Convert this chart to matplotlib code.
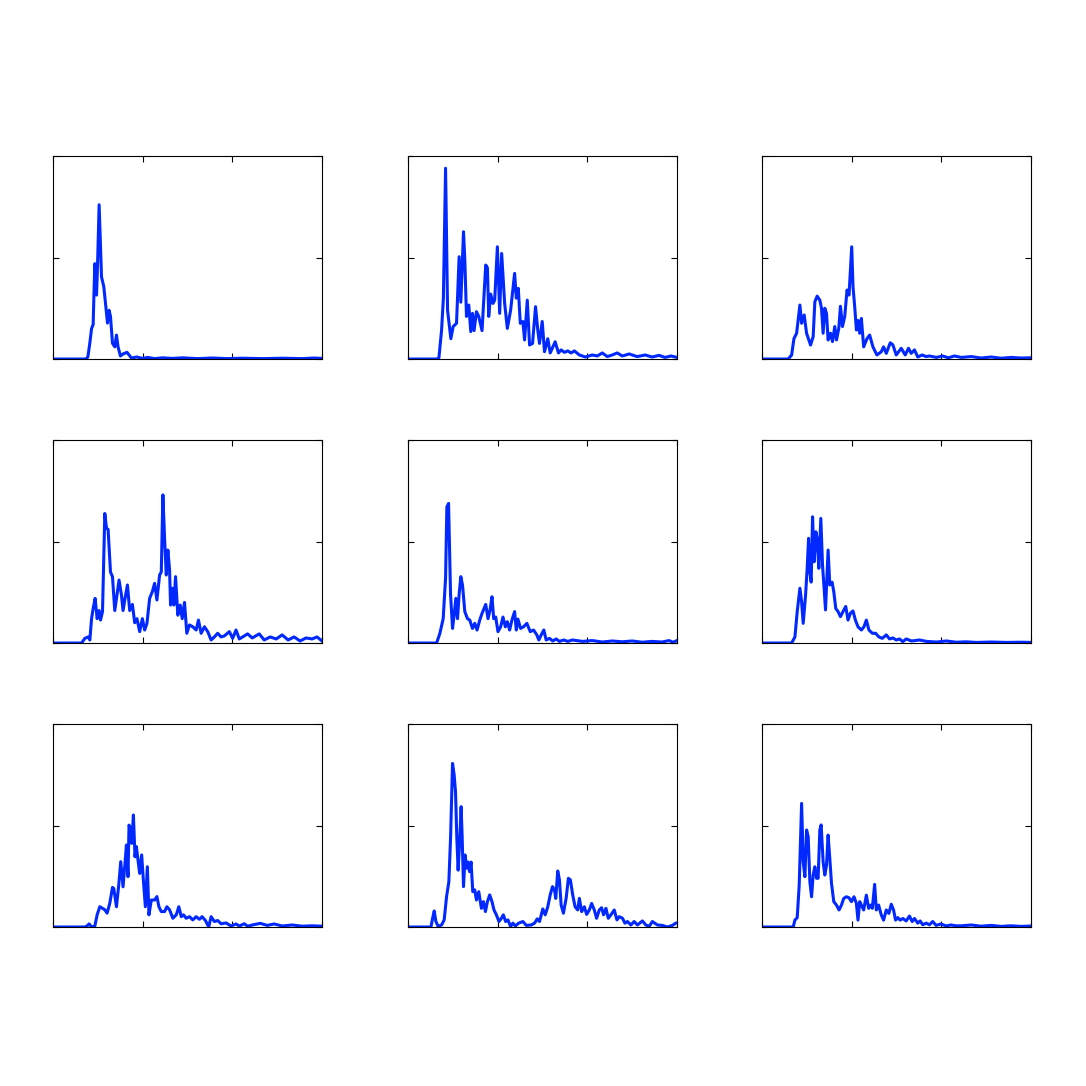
import matplotlib
matplotlib.use('Agg')
import matplotlib.pyplot as plt

# values, x in bins (0-270), y normalised to the axis height
x1 = [0, 33, 35, 37, 38.7, 40.3, 41, 42, 43.7, 44.7, 46.3, 48.7, 51, 53.7, 54.7, 56.3, 57.7, 59.7, 62, 63.7,
      65.3, 67.7, 70.3, 74.3, 78.7, 84, 90, 95, 102, 110, 120, 130, 145, 160, 175, 190, 210, 230, 250, 262, 270]
y1 = [0, 0, 0.01, 0.08, 0.15, 0.17, 0.3, 0.47, 0.315, 0.46, 0.76, 0.405, 0.356, 0.226, 0.177, 0.24, 0.21, 0.078, 0.06, 0.118,
      0.06, 0.015, 0.025, 0.033, 0.005, 0.01, 0.003, 0.008, 0.002, 0.006, 0.003, 0.006, 0.002, 0.005, 0.002, 0.004, 0.002, 0.004, 0.002, 0.005, 0.003]

x2 = [0, 28.7, 31, 33.7, 35.5, 37.7, 39.7, 43, 45.3, 48.7, 51.3, 53, 55.7, 57, 58.7, 61, 63, 64.7, 66.3, 68.7,
      71, 74.3, 78, 79.7, 81, 83, 85.3, 87, 89.7, 92, 94, 97, 99.7, 103, 107, 108.7, 110.7, 112.7, 115.3, 117,
      119.7, 122, 125, 128, 130.3, 132, 134.7, 137, 140.3, 142.7, 147.7, 151, 153.7, 157, 160.3, 163.7, 167, 172,
      178, 185, 190, 195, 200, 205, 210, 215, 222, 230, 238, 245, 252, 258, 264, 270]
y2 = [0, 0, 0.005, 0.143, 0.3, 0.94, 0.24, 0.1, 0.16, 0.176, 0.504, 0.28, 0.627, 0.49, 0.21, 0.266, 0.135, 0.225, 0.14, 0.233,
      0.21, 0.14, 0.463, 0.45, 0.21, 0.32, 0.274, 0.29, 0.553, 0.225, 0.52, 0.274, 0.151, 0.241, 0.422, 0.3, 0.348, 0.176, 0.185, 0.094,
      0.29, 0.069, 0.077, 0.258, 0.14, 0.077, 0.185, 0.036, 0.1, 0.03, 0.085, 0.03, 0.045, 0.033, 0.04, 0.03, 0.04, 0.02,
      0.01, 0.02, 0.015, 0.03, 0.012, 0.02, 0.03, 0.015, 0.025, 0.012, 0.02, 0.01, 0.018, 0.008, 0.015, 0.008]

x3 = [0, 26.3, 29.7, 32, 34.7, 38, 39.7, 42.3, 44.7, 48.7, 51.3, 53, 55.3, 58, 59.7, 61.3, 63, 64.7, 66.3, 68.7,
      70.7, 73, 74.7, 77, 78.7, 80.7, 83, 85.3, 87.3, 90, 91.3, 93, 94.7, 96.3, 98, 99.7, 102, 105.3, 108, 111.3,
      115.3, 119.7, 122, 124.7, 128.7, 131.3, 134.7, 139.7, 143.7, 147, 149.7, 153, 156.3, 160.7, 164.7, 168, 175,
      181.3, 187, 193, 200, 210, 220, 230, 240, 250, 260, 270]
y3 = [0, 0, 0.02, 0.1, 0.127, 0.266, 0.176, 0.217, 0.127, 0.069, 0.11, 0.282, 0.31, 0.29, 0.25, 0.127, 0.25, 0.225, 0.094, 0.127,
      0.086, 0.16, 0.094, 0.15, 0.26, 0.16, 0.21, 0.34, 0.315, 0.553, 0.356, 0.258, 0.143, 0.19, 0.127, 0.2, 0.06, 0.1, 0.118, 0.06,
      0.02, 0.036, 0.06, 0.028, 0.08, 0.07, 0.02, 0.053, 0.02, 0.053, 0.028, 0.045, 0.01, 0.02, 0.012, 0.015, 0.008,
      0.015, 0.006, 0.015, 0.008, 0.012, 0.005, 0.01, 0.004, 0.008, 0.005, 0.006]

x4 = [0, 28.7, 32, 35.3, 37, 38.7, 40.3, 42.3, 44.3, 46.3, 47.7, 49.7, 52, 53.7, 55.3, 57.7, 59.7, 62, 66.3, 68.7,
      70.3, 72.3, 74.7, 77, 79.7, 82, 84.3, 87, 89.7, 92, 94.3, 97, 99.7, 102, 104.3, 107, 108.7, 110.3, 112, 113.7,
      115.3, 117, 118, 119.7, 121.3, 123, 125.3, 127.7, 129.7, 132, 134.3, 137, 140.3, 143.7, 146, 148.7, 152, 155.3,
      158.7, 162, 165.3, 168.7, 172, 177, 180.3, 183.7, 187, 192, 195.3, 200, 207, 212, 218, 224, 230, 236, 242, 248,
      254, 260, 265, 270]
y4 = [0, 0, 0.023, 0.03, 0.015, 0.12, 0.17, 0.22, 0.12, 0.16, 0.113, 0.155, 0.638, 0.565, 0.56, 0.35, 0.327, 0.16, 0.31, 0.237,
      0.16, 0.22, 0.286, 0.16, 0.19, 0.1, 0.12, 0.056, 0.12, 0.064, 0.097, 0.22, 0.253, 0.294, 0.212, 0.335, 0.35, 0.73, 0.515, 0.335,
      0.458, 0.36, 0.187, 0.27, 0.187, 0.327, 0.137, 0.187, 0.12, 0.2, 0.048, 0.089, 0.08, 0.064, 0.113, 0.048, 0.08, 0.056,
      0.015, 0.03, 0.048, 0.03, 0.035, 0.056, 0.023, 0.064, 0.02, 0.035, 0.045, 0.025, 0.045, 0.015, 0.03, 0.02, 0.04, 0.015, 0.03, 0.01,
      0.025, 0.02, 0.03, 0.01]

x5 = [0, 28.7, 32, 35.3, 37.7, 39, 40.7, 42.7, 44.7, 46.3, 48, 49.7, 51.3, 53, 54.7, 57, 59.7, 62, 64.7, 67,
      69.3, 72, 74.3, 76.3, 78, 80.3, 82.3, 84.3, 86, 88, 90.3, 93, 95.3, 97.7, 99.7, 102, 104.3, 107, 108.7, 110.3,
      113, 116, 119.3, 122.7, 126, 129.3, 131.3, 133.7, 136.3, 138.7, 142, 145.3, 148.7, 152, 156.3, 160.3, 165,
      175, 185, 195, 205, 215, 225, 235, 245, 255, 262, 266, 270]
y5 = [0, 0, 0.048, 0.12, 0.32, 0.67, 0.688, 0.24, 0.072, 0.137, 0.22, 0.12, 0.24, 0.327, 0.286, 0.155, 0.12, 0.113, 0.072, 0.097,
      0.064, 0.113, 0.146, 0.17, 0.19, 0.12, 0.162, 0.228, 0.12, 0.128, 0.056, 0.08, 0.128, 0.08, 0.105, 0.064, 0.113, 0.155, 0.064, 0.118,
      0.072, 0.08, 0.097, 0.056, 0.064, 0.04, 0.015, 0.04, 0.064, 0.015, 0.023, 0.01, 0.02, 0.008, 0.015, 0.008, 0.015,
      0.008, 0.012, 0.005, 0.01, 0.006, 0.01, 0.004, 0.008, 0.005, 0.012, 0.004, 0.012]

x6 = [0, 29.7, 33, 35.3, 38, 39.7, 41.3, 43.7, 45.3, 46.7, 48, 49.3, 50.7, 52.3, 54, 55.3, 57, 59, 60.7, 62.3,
      63.7, 66.3, 68, 70.3, 72, 74, 76.3, 78.7, 81.3, 84, 86.3, 88.7, 91.3, 93.7, 96.3, 99.7, 102.3, 104.7, 107.3, 110.7,
      114, 117.3, 120.7, 124.7, 128, 131.3, 134.7, 138, 141.3, 144.7, 150, 158, 165, 175, 185, 195, 205, 215, 230,
      245, 260, 270]
y6 = [0, 0, 0.03, 0.155, 0.27, 0.204, 0.097, 0.237, 0.368, 0.516, 0.35, 0.3, 0.622, 0.4, 0.548, 0.516, 0.368, 0.614, 0.384, 0.27,
      0.163, 0.458, 0.286, 0.3, 0.253, 0.17, 0.155, 0.13, 0.155, 0.18, 0.113, 0.147, 0.158, 0.113, 0.08, 0.064, 0.08, 0.113, 0.064, 0.048,
      0.048, 0.03, 0.023, 0.04, 0.02, 0.025, 0.015, 0.02, 0.007, 0.02, 0.01, 0.015, 0.008, 0.005, 0.01, 0.004, 0.006, 0.003, 0.005,
      0.003, 0.004, 0.003]

x7 = [0, 32, 34.3, 36.3, 38.7, 42, 44.3, 47, 49.7, 52, 54.3, 57, 59.7, 61, 63.7, 66, 68, 70.3, 72, 73.7,
      75.3, 76.3, 78, 79, 80.7, 82.3, 83.7, 85.3, 87, 89, 90.7, 92.7, 94.7, 96.3, 98.7, 102, 104.3, 106.3, 108.7, 112,
      114.3, 117, 120.3, 123.7, 126.3, 128.7, 131, 133.7, 137, 140.3, 143.7, 147, 149.7, 153, 156.3, 158.7, 162,
      165.3, 168.7, 173.7, 178.7, 183.7, 187, 192, 195.3, 200, 208, 215, 222, 230, 240, 250, 260, 270]
y7 = [0, 0, 0.006, 0.015, 0, 0.005, 0.06, 0.1, 0.092, 0.085, 0.068, 0.117, 0.195, 0.19, 0.1, 0.207, 0.322, 0.198, 0.297, 0.404,
      0.248, 0.502, 0.478, 0.412, 0.552, 0.346, 0.396, 0.33, 0.264, 0.355, 0.231, 0.1, 0.297, 0.06, 0.133, 0.133, 0.15, 0.1, 0.076, 0.076,
      0.1, 0.085, 0.043, 0.06, 0.1, 0.051, 0.06, 0.043, 0.051, 0.035, 0.051, 0.038, 0.051, 0.032, 0, 0.051, 0.027,
      0.032, 0.016, 0.02, 0.005, 0.015, 0.005, 0.016, 0.004, 0.01, 0.018, 0.008, 0.015, 0.005, 0.01, 0.004, 0.006, 0.004]

x8 = [0, 23, 24.7, 26.3, 28, 30.3, 33.7, 36.3, 38.7, 41, 42.7, 44.7, 46.3, 47.7, 49, 50.3, 52, 53.3, 54.3, 55.7,
      57.3, 59, 60.3, 61.7, 63.3, 65, 67, 68.7, 71, 73.7, 75.7, 77.7, 79.7, 82, 84.3, 86.3, 88.7, 91.3, 93.7, 95.7,
      98, 100.3, 103, 105.3, 107.7, 111, 115.3, 118.7, 123.7, 127, 129.7, 132, 135.3, 137.7, 140.3, 142.7, 145, 147,
      148.3, 150.3, 152, 153.7, 156, 158.7, 161, 163, 165.3, 167.7, 170.3, 172, 174.3, 177, 179.3, 182, 184.3, 187,
      189.3, 192, 194.3, 196.3, 198.7, 201, 203.7, 207, 209.7, 212, 215.3, 217.7, 220.3, 223.7, 227, 230.3, 235.3,
      238.7, 242, 245.3, 250.3, 255.3, 260.3, 265.3, 268.7, 270]
y8 = [0, 0, 0.043, 0.079, 0.027, 0.003, 0.01, 0.035, 0.15, 0.223, 0.437, 0.806, 0.75, 0.665, 0.437, 0.28, 0.437, 0.593, 0.453, 0.199,
      0.355, 0.29, 0.32, 0.273, 0.32, 0.174, 0.183, 0.133, 0.174, 0.092, 0.125, 0.076, 0.125, 0.158, 0.125, 0.084, 0.06, 0.027, 0.043, 0.06,
      0.027, 0.035, 0.003, 0.019, 0.005, 0.019, 0.027, 0.008, 0.01, 0.019, 0.04, 0.027, 0.089, 0.06, 0.1, 0.158, 0.199, 0.183,
      0.141, 0.276, 0.232, 0.108, 0.068, 0.141, 0.24, 0.232, 0.158, 0.1, 0.084, 0.141, 0.076, 0.1, 0.062, 0.084, 0.116, 0.084,
      0.043, 0.084, 0.095, 0.06, 0.092, 0.043, 0.06, 0.084, 0.035, 0.051, 0.043, 0.019, 0.027, 0.01, 0.027, 0.01, 0.03,
      0.01, 0.003, 0.027, 0.01, 0.008, 0.0, 0.008, 0.019, 0.02]

x9 = [0, 31.3, 33, 35.3, 37.3, 39.7, 41.3, 43, 44.7, 46.3, 48, 49.7, 51.3, 53, 54.7, 56.3, 58, 59.3, 61.3, 63,
      64.7, 66.3, 68, 69.7, 72, 74.7, 77.3, 79.7, 82, 84.7, 87.3, 89.7, 92.3, 94.7, 96.3, 98, 99.7, 102, 104.7, 107,
      109, 110.7, 113, 114.7, 117, 119.7, 122, 124.7, 127.3, 129.7, 132, 134, 136.3, 138.7, 141.3, 144.7, 148, 150.7,
      153, 156.3, 158.7, 161.3, 164.7, 168, 171.3, 174.7, 179.7, 184.7, 189.7, 194.7, 200, 210, 220, 230, 240, 250,
      260, 270]
y9 = [0, 0, 0.034, 0.046, 0.207, 0.609, 0.322, 0.248, 0.478, 0.445, 0.223, 0.149, 0.256, 0.297, 0.24, 0.24, 0.478, 0.503, 0.322, 0.256,
      0.305, 0.453, 0.338, 0.215, 0.125, 0.108, 0.084, 0.108, 0.141, 0.149, 0.144, 0.125, 0.149, 0.116, 0.034, 0.125, 0.108, 0.084, 0.157, 0.092,
      0.108, 0.092, 0.21, 0.084, 0.108, 0.059, 0.034, 0.084, 0.067, 0.112, 0.084, 0.034, 0.046, 0.034, 0.042, 0.03, 0.054, 0.027,
      0.042, 0.019, 0.03, 0.011, 0.019, 0.011, 0.027, 0.008, 0.015, 0.005, 0.01, 0.006, 0.006, 0.01, 0.004, 0.008, 0.003, 0.006,
      0.003, 0.005]

xs = [x1, x2, x3, x4, x5, x6, x7, x8, x9]
ys = [y1, y2, y3, y4, y5, y6, y7, y8, y9]

fig = plt.figure(figsize=(10.86, 10.86), dpi=100)

lefts = [0.0488, 0.3757, 0.7017]
bottoms = [0.6694, 0.4079, 0.1464]
w = 0.2477
h = 0.1869

for i in range(9):
    r = i // 3
    c = i % 3
    ax = fig.add_axes([lefts[c], bottoms[r], w, h])
    ax.plot(xs[i], ys[i], color='#0028ff', linewidth=2.2)
    ax.set_xlim(0, 270)
    ax.set_ylim(0, 1)
    ax.set_xticks([0, 90, 180, 270])
    ax.set_yticks([0, 0.5, 1])
    ax.set_xticklabels([])
    ax.set_yticklabels([])
    ax.tick_params(direction='in', length=4, width=0.8, top=True, right=True)
    for s in ax.spines.values():
        s.set_linewidth(0.8)

fig.savefig('out.png', dpi=100)
